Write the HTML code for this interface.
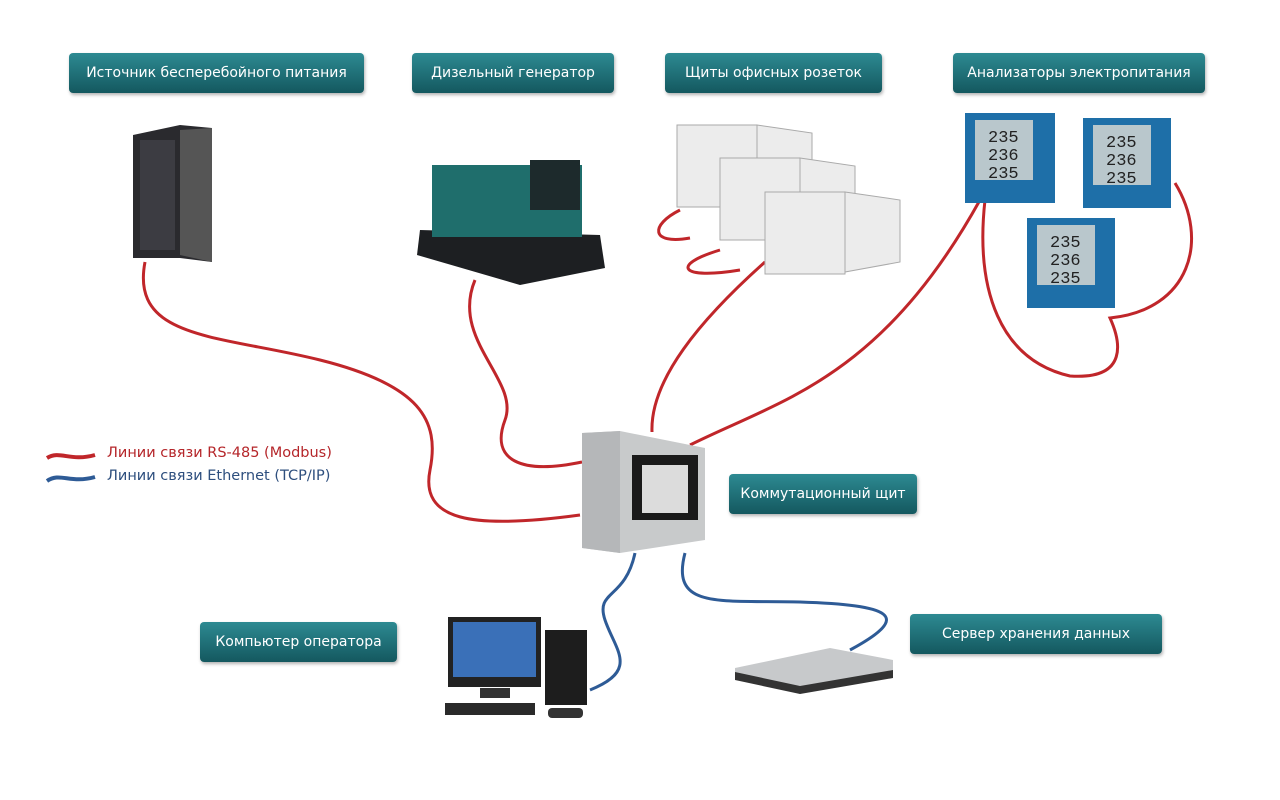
<!DOCTYPE html>
<html><head><meta charset="utf-8"><style>
body{margin:0;width:1280px;height:800px;background:#fff;position:relative;overflow:hidden;font-family:"DejaVu Sans","Liberation Sans",sans-serif}
.lb{position:absolute;height:40px;line-height:40px;color:#fff;font-size:14px;text-align:center;border-radius:4px;background:linear-gradient(#2d8a92,#14585f);box-shadow:1px 2px 3px rgba(0,0,0,.3);white-space:nowrap}
.lg{position:absolute;font-size:14.5px;white-space:nowrap}
svg{position:absolute;left:0;top:0}
</style></head><body>
<svg width="1280" height="800">
<g fill="none" stroke="#c0262a" stroke-width="3">
<path d="M145 262 C130 340 220 335 320 360 C420 385 440 420 430 470 C420 520 470 530 580 515"/>
<path d="M475 280 C450 340 520 380 505 420 C490 460 520 475 582 462"/>
<path d="M765 262 C700 320 650 380 652 432"/>
<path d="M690 445 C780 400 880 380 980 200"/>
<path d="M985 200 C975 290 1000 360 1070 376 C1130 380 1120 340 1110 318 C1190 310 1210 240 1175 183"/>
<path d="M680 210 C650 225 650 245 690 238"/>
<path d="M720 250 C670 265 680 280 740 270"/>
</g>
<g fill="none" stroke="#2e5b96" stroke-width="3">
<path d="M635 553 C625 600 595 590 605 620 C615 650 640 670 590 690"/>
<path d="M685 553 C670 610 720 600 800 602 C890 605 915 615 850 650"/>
</g>
<path d="M47 458 C60 450 70 462 95 455" stroke="#c0262a" stroke-width="4" fill="none"/>
<path d="M47 481 C60 472 70 484 95 477" stroke="#2e5b96" stroke-width="4" fill="none"/>
<polygon points="133,135 180,125 212,128 212,262 180,258 133,258" fill="#2a2a2e"/>
<polygon points="180,130 212,128 212,262 180,255" fill="#555"/>
<rect x="140" y="140" width="35" height="110" fill="#3c3c42"/>
<polygon points="420,230 600,235 605,268 520,285 417,255" fill="#1d1f22"/>
<rect x="432" y="165" width="150" height="72" fill="#1f6e6c"/>
<rect x="530" y="160" width="50" height="50" fill="#1d2a2c"/>
<g fill="#ececec" stroke="#aaa">
<rect x="677" y="125" width="80" height="82"/><polygon points="757,125 812,133 812,195 757,205"/>
<rect x="720" y="158" width="80" height="82"/><polygon points="800,158 855,166 855,228 800,238"/>
<rect x="765" y="192" width="80" height="82"/><polygon points="845,192 900,200 900,262 845,272"/>
</g>
<g>
<rect x="965" y="113" width="90" height="90" fill="#1e6fa8"/><rect x="975" y="120" width="58" height="60" fill="#b9c7cc"/>
<rect x="1083" y="118" width="88" height="90" fill="#1e6fa8"/><rect x="1093" y="125" width="58" height="60" fill="#b9c7cc"/>
<rect x="1027" y="218" width="88" height="90" fill="#1e6fa8"/><rect x="1037" y="225" width="58" height="60" fill="#b9c7cc"/>
</g>
<g font-size="17" fill="#222" font-family="Liberation Mono,monospace">
<text x="988" y="142">235</text><text x="988" y="160">236</text><text x="988" y="178">235</text>
<text x="1106" y="147">235</text><text x="1106" y="165">236</text><text x="1106" y="183">235</text>
<text x="1050" y="247">235</text><text x="1050" y="265">236</text><text x="1050" y="283">235</text>
</g>
<polygon points="582,433 620,431 705,448 705,540 620,553 582,548" fill="#c8cacb"/>
<polygon points="582,433 620,431 620,553 582,548" fill="#b5b7b9"/>
<rect x="632" y="455" width="66" height="65" fill="#1a1a1a"/><rect x="642" y="465" width="46" height="48" fill="#dcdcdc"/>
<rect x="448" y="617" width="93" height="70" fill="#222"/><rect x="453" y="622" width="83" height="55" fill="#3a70b8"/>
<rect x="480" y="688" width="30" height="10" fill="#333"/>
<rect x="445" y="703" width="90" height="12" fill="#2a2a2a"/>
<rect x="545" y="630" width="42" height="75" fill="#1d1d1d"/>
<rect x="548" y="708" width="35" height="10" rx="4" fill="#333"/>
<polygon points="735,668 830,648 893,660 893,675 800,692 735,678" fill="#c7c9cb"/>
<polygon points="735,672 800,686 893,670 893,678 800,694 735,680" fill="#333"/>
</svg>
<div class="lb" style="left:69px;top:53px;width:295px">Источник бесперебойного питания</div>
<div class="lb" style="left:412px;top:53px;width:202px">Дизельный генератор</div>
<div class="lb" style="left:665px;top:53px;width:217px">Щиты офисных розеток</div>
<div class="lb" style="left:953px;top:53px;width:252px">Анализаторы электропитания</div>
<div class="lb" style="left:729px;top:474px;width:188px">Коммутационный щит</div>
<div class="lb" style="left:200px;top:622px;width:197px">Компьютер оператора</div>
<div class="lb" style="left:910px;top:614px;width:252px">Сервер хранения данных</div>
<div class="lg" style="left:107px;top:445px;color:#b5262a">Линии связи RS-485 (Modbus)</div>
<div class="lg" style="left:107px;top:468px;color:#2e4f7e">Линии связи Ethernet (TCP/IP)</div>
</body></html>
